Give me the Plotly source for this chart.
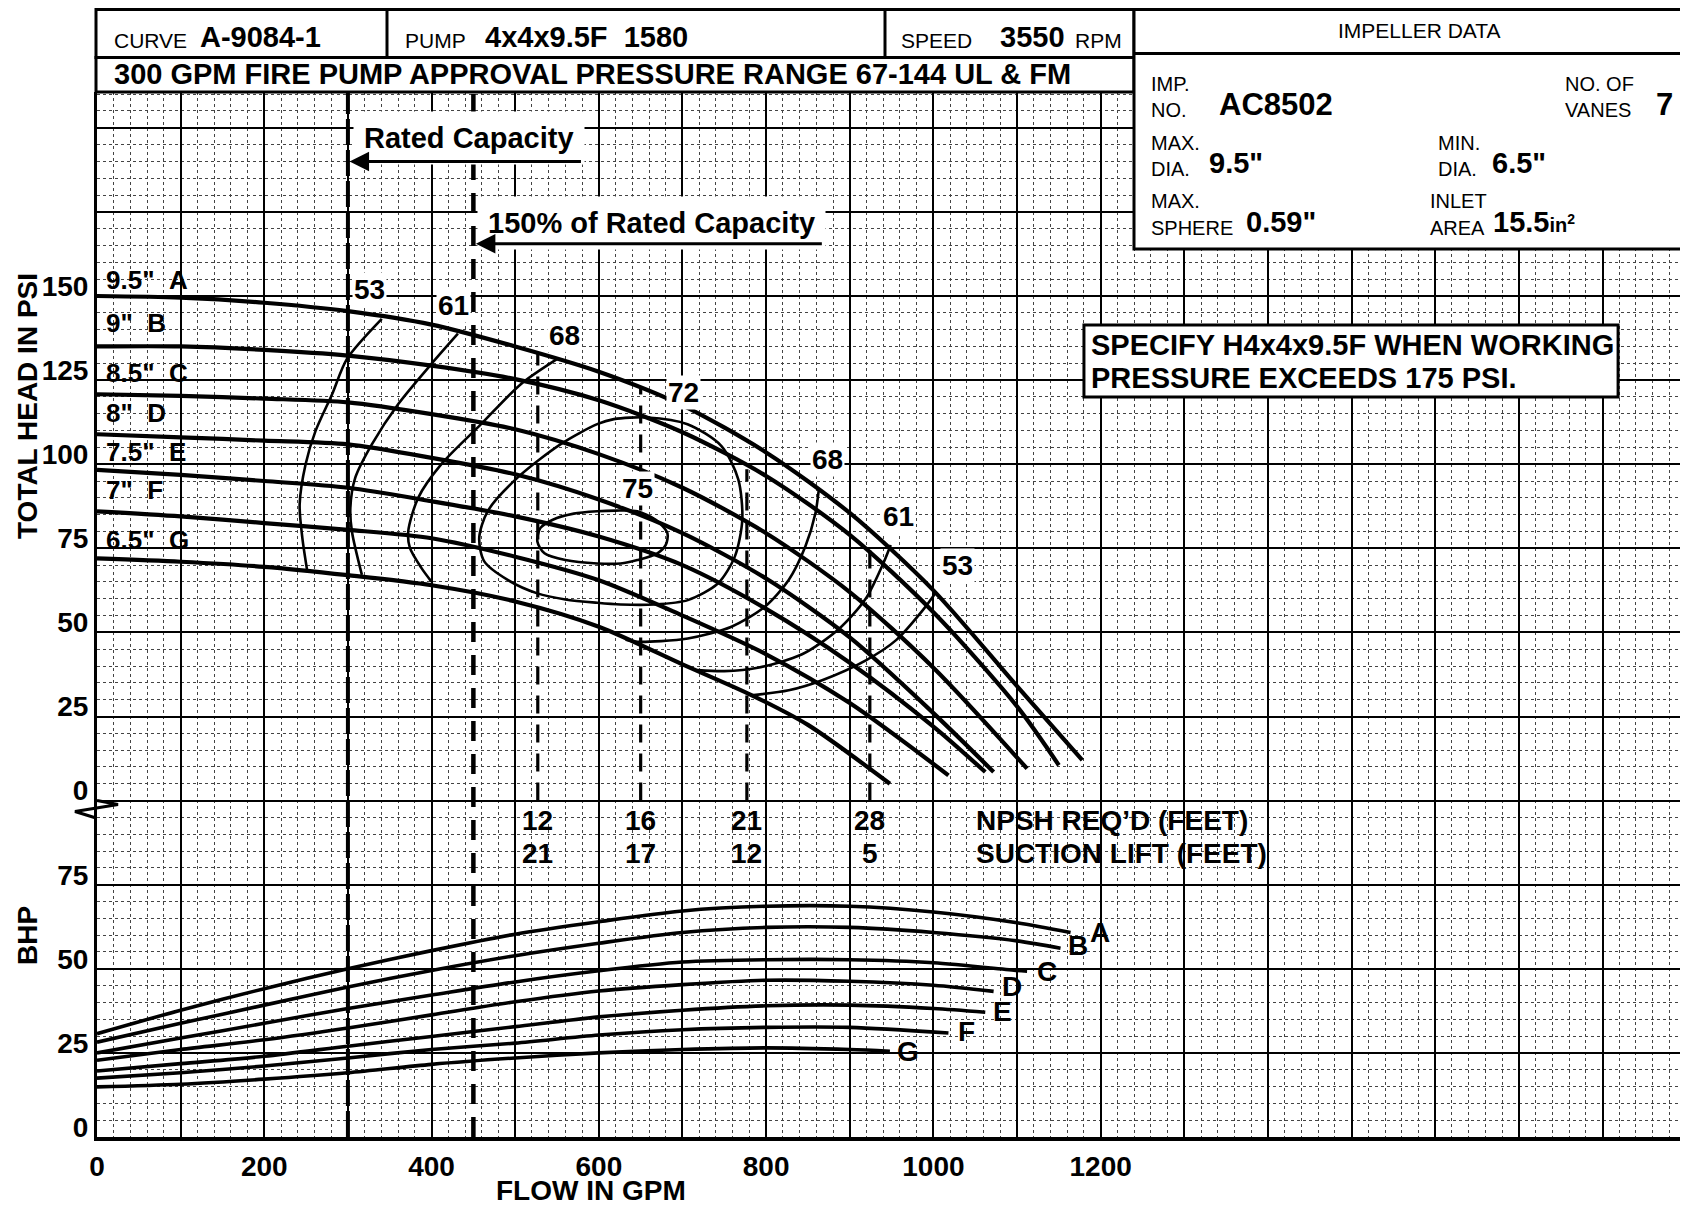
import plotly.graph_objects as go

FONT = "Liberation Sans, Arial, Helvetica, sans-serif"

# ---------------- data ----------------
FLOW_TICKS = [0, 200, 400, 600, 800, 1000, 1200]
FLOW_GRID_MAX = 1900
HEAD_TICKS = [0, 25, 50, 75, 100, 125, 150]
HEAD_GRID_EXTRA = [175, 200]
BHP_TICKS = [0, 25, 50, 75]
BHP_SHIFT = 100          # BHP scale sits 100 grid units below the head scale
RATED_FLOW = 300
RATED_150 = 450

IMPELLERS = ["A", "B", "C", "D", "E", "F", "G"]
DIAMETERS = ['9.5"', '9"', '8.5"', '8"', '7.5"', '7"', '6.5"']

# head-capacity curves (GPM, PSI)
A_Q = [0, 100, 200, 300, 400, 500, 600, 700, 800, 900, 1000, 1100, 1178]
A_H = [150, 149.5, 148, 145.5, 141.5, 135, 127.5, 117.5, 103.5, 85.5, 62.5, 34, 12]
B_Q = [0, 100, 200, 300, 400, 500, 600, 700, 800, 900, 1000, 1100, 1150]
B_H = [135, 135, 134, 132.3, 129.3, 125.3, 119, 109.5, 96.5, 79, 56, 28, 10.5]
C_Q = [0, 100, 200, 300, 400, 500, 600, 700, 800, 900, 1000, 1112]
C_H = [120.8, 120.3, 119.5, 118.4, 114.9, 110.4, 103, 93, 79.5, 62, 39.5, 9.5]
D_Q = [0, 100, 200, 300, 400, 500, 600, 700, 800, 900, 1000, 1072]
D_H = [108.9, 108, 107, 105.9, 101.9, 97, 89.5, 79.5, 66, 48.5, 26, 8.5]
E_Q = [0, 100, 200, 300, 400, 500, 600, 700, 800, 900, 1000, 1062]
E_H = [98.3, 96.8, 95, 93, 89, 84.5, 78.5, 70, 57, 41, 22, 8.5]
F_Q = [0, 100, 200, 300, 400, 500, 600, 700, 800, 900, 1018]
F_H = [86, 84.5, 82.5, 80.5, 78, 72.5, 65.5, 55, 43.5, 29, 7.5]
G_Q = [0, 100, 200, 300, 400, 500, 600, 700, 783, 850, 948]
G_H = [72, 71, 69.5, 67, 64, 59.2, 51.7, 40.5, 31.3, 22.5, 5]

# efficiency contours (GPM, PSI)
E53L_Q = [340.5, 298.9, 281.1, 261.3, 249.4, 242.3, 245.5, 251.4]
E53L_H = [143.2, 131.3, 120.8, 109.9, 100, 88, 78.1, 68.2]
E61L_Q = [431.5, 399.8, 360.2, 328.6, 308.8, 302.9, 304.8, 316.7]
E61L_H = [138.8, 129.8, 117.9, 105.9, 96, 87, 80, 67.1]
E68L_Q = [550.3, 506.7, 459.2, 411.7, 384, 372.1, 374.1, 388, 399.8]
E68L_H = [131.3, 123.8, 111.9, 100, 90, 80, 75.1, 69.1, 65.1]
E72_Q = [598, 618, 658, 706, 746.6, 766.7, 771.5, 762.7, 742.6, 706.4, 666.3, 626, 598, 560,
         526.5, 491, 463, 457, 467, 502.8, 554, 598]
E72_H = [111.9, 113.4, 113.9, 111.9, 105.4, 95.5, 83.5, 72.6, 64.6, 59.6, 58.3, 58.3, 58.8, 59.8,
         61.6, 65.6, 71.1, 78.1, 86, 96, 105.9, 111.9]
E75_Q = [598, 620, 646, 668, 682, 680, 670, 646, 626, 598, 560, 535, 526.5, 530, 545, 570, 598]
E75_H = [86, 86.2, 86, 83.5, 79.5, 76, 73.5, 71.5, 70.5, 70.5, 71.5, 73.5, 77, 81, 83.5, 85.3, 86]
E68R_Q = [863, 859, 847, 827, 798.8, 758.6, 706.4, 646, 632]
E68R_H = [92.5, 85.5, 75.6, 65.6, 57.7, 51.7, 48.2, 47.2, 47.8]
E61R_Q = [949, 940, 919, 887, 843, 790, 750, 718]
E61R_H = [76, 70.5, 60, 51, 43.5, 39.5, 38.5, 38.8]
E53R_Q = [1003.6, 987.6, 955.4, 919.3, 867, 827, 782.7]
E53R_H = [62.1, 56.7, 47.7, 41.7, 35.8, 32.8, 31.3]
EFF_LABELS = ["53", "61", "68", "72", "75", "68", "61", "53"]

# NPSH
NPSH_Q = [527, 650, 777, 924]
NPSH_TOP = [133, 123, 98.5, 77.5]
NPSH_REQ = [12, 16, 21, 28]
SUCTION_LIFT = [21, 17, 12, 5]

# brake horsepower curves (GPM, BHP)
BA_Q = [0, 100, 200, 300, 400, 500, 600, 700, 800, 900, 1000, 1100, 1164]
BA_P = [30.7, 37.7, 44.1, 50, 55.4, 60.3, 64, 67.2, 68.6, 68.6, 66.9, 63.7, 60.8]
BB_Q = [0, 100, 200, 300, 400, 500, 600, 700, 800, 900, 1000, 1100, 1152]
BB_P = [28.2, 33.8, 39.2, 44.6, 49.5, 53.9, 57.6, 60.8, 62.3, 62.3, 60.8, 58.3, 56.1]
BC_Q = [0, 100, 200, 300, 400, 500, 600, 700, 800, 900, 1000, 1100, 1112]
BC_P = [25, 29.4, 33.8, 38.2, 42.2, 46.1, 49.4, 52, 52.7, 52.7, 51.8, 49.5, 49.3]
BD_Q = [0, 100, 200, 300, 400, 500, 600, 700, 800, 900, 1000, 1072]
BD_P = [22.8, 26, 28.9, 32.4, 36.3, 40.2, 43.4, 45.3, 46.6, 46.3, 45.1, 43.3]
BE_Q = [0, 100, 200, 300, 400, 500, 600, 700, 800, 900, 1000, 1062]
BE_P = [19.6, 21.8, 24, 27, 29.9, 32.8, 35.7, 37.7, 39, 39.2, 38.2, 37.1]
BF_Q = [0, 100, 200, 300, 400, 500, 600, 700, 800, 900, 1018]
BF_P = [17.5, 19.1, 21.1, 23.5, 26, 27.9, 30.3, 31.9, 32.6, 32.6, 30.9]
BG_Q = [0, 100, 200, 300, 400, 500, 600, 700, 800, 900, 948]
BG_P = [14.9, 15.7, 17.2, 19.1, 21.6, 23.5, 25, 26, 26.5, 26, 25.5]

# ---------------- layout geometry (page pixels) ----------------
PAGE_W, PAGE_H = 1688, 1207
BODY = 8                                   # default page margin around the figure
PLOT_L, PLOT_T, PLOT_R, PLOT_B = 97, 92, 1688, 1137
W, H = PAGE_W - BODY, PAGE_H - BODY
ML, MT = PLOT_L - BODY, PLOT_T - BODY
MR, MB = W - (PLOT_R - BODY), H - (PLOT_B - BODY)
PW, PH = PLOT_R - PLOT_L, PLOT_B - PLOT_T
PX_PER_GPM = 0.8364
PX_PER_UNIT = 3.364
X_MAX = PW / PX_PER_GPM
Y_MIN = -BHP_SHIFT
Y_MAX = Y_MIN + PH / PX_PER_UNIT


def px(x):
    return (x - PLOT_L) / PW


def py(y):
    return (PLOT_B - y) / PH


fig = go.Figure()

head_curves = [(A_Q, A_H), (B_Q, B_H), (C_Q, C_H), (D_Q, D_H), (E_Q, E_H), (F_Q, F_H), (G_Q, G_H)]
for q, h in head_curves:
    fig.add_trace(go.Scatter(x=q, y=h, mode="lines", line=dict(color="black", width=4.2, shape="spline", smoothing=0.8),
                             hoverinfo="skip"))

eff_curves = [(E53L_Q, E53L_H), (E61L_Q, E61L_H), (E68L_Q, E68L_H), (E72_Q, E72_H), (E75_Q, E75_H),
              (E68R_Q, E68R_H), (E61R_Q, E61R_H), (E53R_Q, E53R_H)]
for q, h in eff_curves:
    fig.add_trace(go.Scatter(x=q, y=h, mode="lines", line=dict(color="black", width=2.6, shape="spline", smoothing=0.8),
                             hoverinfo="skip"))

for q, top in zip(NPSH_Q, NPSH_TOP):
    fig.add_trace(go.Scatter(x=[q, q], y=[0, top], mode="lines",
                             line=dict(color="black", width=3.2, dash="18px,11px"), hoverinfo="skip"))

bhp_curves = [(BA_Q, BA_P), (BB_Q, BB_P), (BC_Q, BC_P), (BD_Q, BD_P), (BE_Q, BE_P), (BF_Q, BF_P), (BG_Q, BG_P)]
for q, p in bhp_curves:
    fig.add_trace(go.Scatter(x=q, y=p, yaxis="y2", mode="lines",
                             line=dict(color="black", width=3.6, shape="spline", smoothing=0.8), hoverinfo="skip"))

# ---------------- annotations ----------------
ann = []


def t(text, x, y, size=28, bold=True, xanchor="center", yanchor="middle", xref="x", yref="y", bg=None, pad=0,
      angle=0):
    d = dict(text=("<b>%s</b>" % text) if bold else text, x=x, y=y, xref=xref, yref=yref, showarrow=False,
             xanchor=xanchor, yanchor=yanchor, font=dict(family=FONT, size=size, color="black"),
             borderpad=pad, textangle=angle)
    if bg:
        d["bgcolor"] = bg
    ann.append(d)


# impeller diameter labels
head_label_y = [154.8, 141.9, 127.0, 115.1, 103.7, 92.3, 77.4]
for dia, imp, yy in zip(DIAMETERS, IMPELLERS, head_label_y):
    t("%s&nbsp;&nbsp;%s" % (dia, imp), 9.6, yy, size=26, xanchor="left")

# efficiency labels
eff_pos = [(325.2, 151.8), (426.2, 147.3), (559.5, 138.4), (701.8, 121.2), (646.2, 92.8),
           (872.8, 101.3), (958.3, 84.5), (1029.4, 70.0)]
for lab, (xx, yy) in zip(EFF_LABELS, eff_pos):
    t(lab, xx, yy, size=28, bg="white", pad=1)

# NPSH labels
for q, r, s in zip(NPSH_Q, NPSH_REQ, SUCTION_LIFT):
    t(str(r), q, -5.8, size=28)
    t(str(s), q, -15.8, size=28)
t("NPSH REQ\u2019D (FEET)", 1049.7, -5.8, size=28, xanchor="left")
t("SUCTION LIFT (FEET)", 1049.7, -15.8, size=28, xanchor="left")

# BHP curve letters
bhp_lab = [(1199, 60.9), (1173, 56.8), (1136, 49.3), (1094, 44.6), (1083, 37.4), (1039, 31.5), (970, 25.3)]
for imp, (xx, yy) in zip(IMPELLERS, bhp_lab):
    t(imp, xx, yy, size=28, yref="y2")

# rated capacity markers
t("Rated Capacity", 444.2, 196.9, size=29, bg="white", pad=10)
ann.append(dict(text=" ", x=RATED_FLOW + 2, y=190, ax=581, ay=190, xref="x", yref="y", axref="x", ayref="y",
                showarrow=True, arrowhead=2, arrowsize=1.3, arrowwidth=3, arrowcolor="black",
                font=dict(size=2)))
t("150% of Rated Capacity", 662.4, 171.6, size=29, bg="white", pad=10)
ann.append(dict(text=" ", x=RATED_150 + 3, y=165.5, ax=869, ay=165.5, xref="x", yref="y", axref="x", ayref="y",
                showarrow=True, arrowhead=2, arrowsize=1.3, arrowwidth=3, arrowcolor="black",
                font=dict(size=2)))

# specify box text
t("SPECIFY H4x4x9.5F WHEN WORKING", 1187, 135.4, size=29, xanchor="left")
t("PRESSURE EXCEEDS 175 PSI.", 1187, 125.6, size=29, xanchor="left")

# axis titles
t("TOTAL HEAD IN PSI", px(27), py(406), size=28, xref="paper", yref="paper", angle=-90)
t("BHP", px(27), py(936), size=28, xref="paper", yref="paper", angle=-90)
t("FLOW IN GPM", px(591), py(1190), size=28, xref="paper", yref="paper")

# header texts
P = dict(xref="paper", yref="paper")
t("CURVE", px(113), py(41), size=21, bold=False, xanchor="left", **P)
t("A-9084-1", px(199), py(37), size=29, xanchor="left", **P)
t("PUMP", px(404), py(41), size=21, bold=False, xanchor="left", **P)
t("4x4x9.5F&nbsp;&nbsp;1580", px(484), py(37), size=29, xanchor="left", **P)
t("SPEED", px(900), py(41), size=21, bold=False, xanchor="left", **P)
t("3550", px(999), py(37), size=29, xanchor="left", **P)
t("RPM", px(1074), py(41), size=21, bold=False, xanchor="left", **P)
t("300 GPM FIRE PUMP APPROVAL PRESSURE RANGE 67-144 UL &amp; FM", px(113), py(74), size=29,
  xanchor="left", **P)

t("IMPELLER DATA", px(1419), py(31), size=21, bold=False, **P)
t("IMP.", px(1150), py(84), size=20, bold=False, xanchor="left", **P)
t("NO.", px(1150), py(110), size=20, bold=False, xanchor="left", **P)
t("AC8502", px(1218), py(104), size=31, xanchor="left", **P)
t("NO. OF", px(1564), py(84), size=20, bold=False, xanchor="left", **P)
t("VANES", px(1564), py(110), size=20, bold=False, xanchor="left", **P)
t("7", px(1655), py(104), size=31, xanchor="left", **P)
t("MAX.", px(1150), py(143), size=20, bold=False, xanchor="left", **P)
t("DIA.", px(1150), py(169), size=20, bold=False, xanchor="left", **P)
t('9.5"', px(1208), py(163), size=29, xanchor="left", **P)
t("MIN.", px(1437), py(143), size=20, bold=False, xanchor="left", **P)
t("DIA.", px(1437), py(169), size=20, bold=False, xanchor="left", **P)
t('6.5"', px(1491), py(163), size=29, xanchor="left", **P)
t("MAX.", px(1150), py(201), size=20, bold=False, xanchor="left", **P)
t("SPHERE", px(1150), py(228), size=20, bold=False, xanchor="left", **P)
t('0.59"', px(1245), py(222), size=29, xanchor="left", **P)
t("INLET", px(1429), py(201), size=20, bold=False, xanchor="left", **P)
t("AREA", px(1429), py(228), size=20, bold=False, xanchor="left", **P)
ann.append(dict(text="<b>15.5</b><b><span style='font-size:20px'>in<sup>2</sup></span></b>", x=px(1491), y=py(222),
                xref="paper", yref="paper", showarrow=False, xanchor="left", yanchor="middle",
                font=dict(family=FONT, size=29, color="black")))

# ---------------- shapes ----------------
shapes = []
LW = 3
# rated capacity vertical lines
shapes.append(dict(type="line", xref="x", yref="paper", x0=RATED_FLOW, x1=RATED_FLOW, y0=0, y1=1,
                   line=dict(color="black", width=4, dash="26px,5px"), layer="above"))
shapes.append(dict(type="line", xref="x", yref="paper", x0=RATED_150, x1=RATED_150, y0=0, y1=1,
                   line=dict(color="black", width=4.5, dash="20px,13px"), layer="above"))
# header boxes
shapes.append(dict(type="rect", xref="paper", yref="paper", x0=px(96), x1=px(1134), y0=py(57.5), y1=py(9.5),
                   line=dict(color="black", width=LW), fillcolor="white", layer="above"))
shapes.append(dict(type="rect", xref="paper", yref="paper", x0=px(96), x1=px(1134), y0=py(92), y1=py(57.5),
                   line=dict(color="black", width=LW), fillcolor="white", layer="above"))
for xx in (387, 885):
    shapes.append(dict(type="line", xref="paper", yref="paper", x0=px(xx), x1=px(xx), y0=py(57.5), y1=py(9.5),
                       line=dict(color="black", width=LW), layer="above"))
shapes.append(dict(type="rect", xref="paper", yref="paper", x0=px(1134), x1=px(1700), y0=py(249), y1=py(9.5),
                   line=dict(color="black", width=LW), fillcolor="white", layer="above"))
shapes.append(dict(type="line", xref="paper", yref="paper", x0=px(1134), x1=px(1700), y0=py(53.5), y1=py(53.5),
                   line=dict(color="black", width=LW), layer="above"))
# specify box
shapes.append(dict(type="rect", xref="x", yref="y", x0=1180, x1=1818.6, y0=120.0, y1=141.4,
                   line=dict(color="black", width=LW), fillcolor="white", layer="above"))
# axis break symbol
brk = "M %f %f L %f %f L %f %f L %f %f" % (px(97), py(800.5), px(118), py(804.5), px(75), py(811.5),
                                          px(96), py(818))
shapes.append(dict(type="path", xref="paper", yref="paper", path=brk, line=dict(color="black", width=3),
                   layer="above"))

# ---------------- axes ----------------
x_vals = list(range(0, FLOW_GRID_MAX + 1, 100))
x_text = [str(v) if v in FLOW_TICKS else "" for v in x_vals]
y_vals = [b - BHP_SHIFT for b in BHP_TICKS] + HEAD_TICKS + HEAD_GRID_EXTRA
y_text = [str(b) for b in BHP_TICKS] + [str(h) for h in HEAD_TICKS] + ["" for _ in HEAD_GRID_EXTRA]

fig.update_layout(
    width=W, height=H, margin=dict(l=ML, r=MR, t=MT, b=MB, pad=0),
    paper_bgcolor="white", plot_bgcolor="white", showlegend=False,
    annotations=ann, shapes=shapes,
    xaxis=dict(range=[0, X_MAX], tickmode="array", tickvals=x_vals, ticktext=x_text,
               showgrid=True, gridcolor="black", gridwidth=2, zeroline=False,
               showline=True, linecolor="black", linewidth=4, ticks="", ticklabelstandoff=1,
               tickfont=dict(family=FONT, size=28, color="black", weight="bold"),
               minor=dict(tickmode="linear", tick0=0, dtick=20, showgrid=True, gridcolor="#444",
                          gridwidth=1, griddash="dot")),
    yaxis=dict(range=[Y_MIN, Y_MAX], tickmode="array", tickvals=y_vals, ticktext=y_text,
               showgrid=True, gridcolor="black", gridwidth=2, zeroline=False,
               showline=True, linecolor="black", linewidth=3, ticks="", ticklabelstandoff=0,
               ticklabelshift=-10,
               tickfont=dict(family=FONT, size=28, color="black", weight="bold"),
               minor=dict(tickmode="linear", tick0=0, dtick=5, showgrid=True, gridcolor="#444",
                          gridwidth=1, griddash="dot")),
    yaxis2=dict(range=[Y_MIN + BHP_SHIFT, Y_MAX + BHP_SHIFT], overlaying="y", visible=False),
)

fig.write_html("out.html")
